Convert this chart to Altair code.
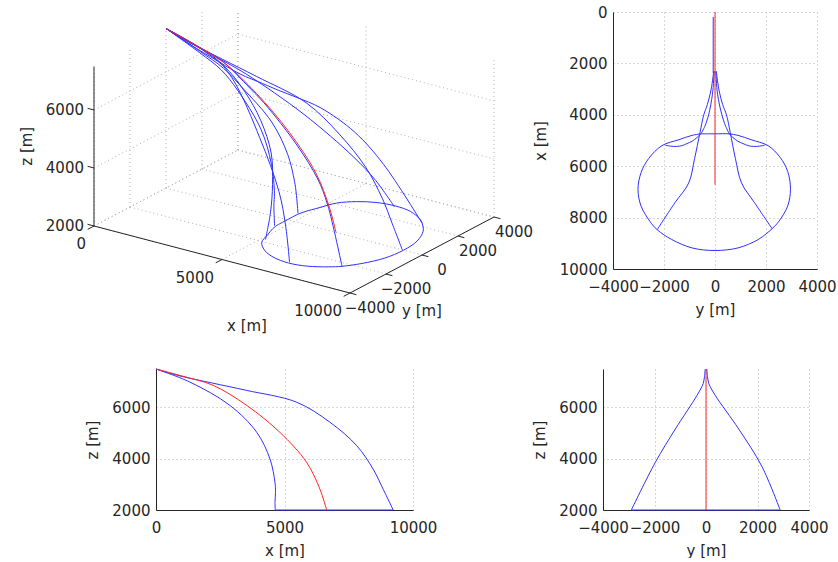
import altair as alt
import pandas as pd

FONT = "DejaVu Sans"
INK = "#262626"
BLUE = "#3030ff"
RED = "#ff2424"
GRID = "#b0b0b0"
FS = 15

# ---------------- 3-D view: limits and ticks ----------------
x_lim3 = [0, 10000]
y_lim3 = [-4000, 4000]
z_lim3 = [2000, 7500]
x_ticks3 = [0, 5000, 10000]
y_ticks3 = [-4000, -2000, 0, 2000, 4000]
z_ticks3 = [2000, 4000, 6000]

# ---------------- trajectories (metres) ----------------
red_x = [0, 1000, 2230, 3530, 4820, 5860, 6380, 6640]
red_y = [0, 0, 0, 0, 0, 0, 0, 0]
red_z = [7500, 7230, 6860, 6080, 5030, 3860, 2810, 2000]

a_x = [0, 1320, 2200, 2880, 3920, 4435, 4630, 4650, 4700]
a_y = [0, -30, -60, -120, -300, -450, -560, -620, -650]
a_z = [7500, 6990, 6600, 6077, 5030, 3990, 3070, 2680, 2000]

a2_x = [0, 1320, 2200, 2880, 3920, 4435, 4630, 4650, 4700]
a2_y = [0, 30, 60, 120, 300, 450, 560, 620, 650]
a2_z = [7500, 7000, 6620, 6100, 5080, 4040, 3100, 2700, 2000]

e_x = [0, 1200, 2300, 3200, 4000, 4600, 4900, 5100, 5150]
e_y = [0, -20, -50, -200, -430, -700, -1050, -1450, -1800]
e_z = [7500, 7100, 6750, 6150, 5400, 4500, 3600, 2800, 2000]

g_x = [0, 1000, 2000, 2900, 4500, 5800, 6400, 6900]
g_y = [0, -20, -50, -350, -1190, -1970, -2450, -2950]
g_z = [7500, 7230, 6930, 6470, 5160, 3855, 2950, 2000]

g2_x = [0, 1000, 2000, 2900, 4500, 5800, 6400, 6900]
g2_y = [0, 20, 50, 360, 1270, 2170, 2550, 2880]
g2_z = [7500, 7230, 6930, 6470, 5160, 3700, 2900, 2000]

c_x = [0, 1000, 2300, 3000, 3600, 4000, 4700, 5700, 6650, 7420, 8470]
c_y = [0, -20, -50, -150, -300, -440, -590, -800, -1030, -1570, -2270]
c_z = [7500, 7230, 6876, 6534, 6272, 6138, 5728, 5028, 4186, 3641, 2000]

c2_x = [0, 1000, 2300, 3000, 3420, 4100, 4700, 5500, 6640, 7450, 8430]
c2_y = [0, 20, 50, 150, 240, 400, 590, 780, 1030, 1500, 2240]
c2_z = [7500, 7230, 6721, 6486, 6383, 6190, 6014, 5776, 5128, 4038, 2000]

d_x = [0, 930, 2200, 3530, 5470, 6770, 7810, 8450, 8840, 9230]
d_y = [0, 0, 0, 0, 0, 0, 0, 0, 0, 0]
d_z = [7500, 7230, 6950, 6665, 6206, 5422, 4509, 3594, 2810, 2000]

# reachable footprint at z = 2000 (y, x)
gb_y = [-550, 0, 550, 900, 1420, 2080, 2550, 2850, 2960, 2850, 2500, 2240, 1700, 900, 0,
        -900, -1700, -2270, -2550, -2900, -3020, -2900, -2600, -2080, -1420, -900, -550]
gb_x = [4740, 4740, 4740, 4800, 4970, 5200, 5650, 6200, 6900, 7550, 8150, 8430, 8850, 9180, 9280,
        9180, 8850, 8470, 8150, 7550, 6910, 6250, 5700, 5200, 4970, 4800, 4740]
lobe_l_y = [-1950, -1750, -1500, -1300, -1100, -900, -700, -550]
lobe_l_x = [5180, 5220, 5230, 5200, 5120, 5030, 4880, 4740]
lobe_r_y = [1950, 1750, 1500, 1300, 1100, 900, 700, 550]
lobe_r_x = [5180, 5220, 5230, 5200, 5120, 5030, 4880, 4740]

# top view ground tracks (y, x)
tv_red_y = [0, 0]
tv_red_x = [0, 6720]
tv_trunk_y = [-70, -70]
tv_trunk_x = [190, 2370]
tv_tl_y = [-50, -150, -300, -440, -590, -800, -1030, -1570, -2270]
tv_tl_x = [2300, 3000, 3600, 4000, 4700, 5700, 6650, 7420, 8470]
tv_tr_y = [50, 150, 300, 450, 600, 800, 1040, 1550, 2240]
tv_tr_x = [2300, 3000, 3600, 4000, 4700, 5700, 6650, 7420, 8430]
tv_il_y = [-30, -100, -250, -400, -550]
tv_il_x = [2300, 3200, 4000, 4450, 4740]
tv_ir_y = [30, 100, 270, 420, 560]
tv_ir_x = [2300, 3200, 4000, 4450, 4740]

# side view x-z envelopes
bl_min_x = [0, 1320, 2880, 3920, 4435, 4630, 4650, 4630, 4640]
bl_min_z = [7500, 6990, 6077, 5030, 3990, 3070, 2680, 2290, 2000]
bl_max_x = [0, 930, 2200, 3530, 5470, 6770, 7810, 8450, 8840, 9230]
bl_max_z = [7500, 7230, 6950, 6665, 6206, 5422, 4509, 3594, 2810, 2000]
bl_base_x = [4640, 9230]
bl_base_z = [2000, 2000]

# side view y-z envelopes
br_l_y = [-30, -60, -110, -350, -1190, -1970, -2900]
br_l_z = [7500, 7200, 6930, 6470, 5160, 3855, 2000]
br_r_y = [30, 60, 110, 360, 1270, 2170, 2880]
br_r_z = [7500, 7200, 6930, 6470, 5160, 3700, 2000]
br_red_y = [0, 0]
br_red_z = [7500, 2000]
br_base_y = [-2900, 2880]
br_base_z = [2000, 2000]

# ---------------- 3-D projection (orthographic, view of the figure) ----------------
W3, H3 = 530, 326
P_OX, P_OY = 91, 214          # corner (x=0, y=-4000, z=2000) inside the panel
P_XX, P_XY = 0.0256, 0.0067   # px per metre along x
P_YX, P_YY = 0.018, -0.0095   # px per metre along y
P_Z = 0.029                   # px per metre along z

SX = f"{P_OX} + {P_XX}*datum.x + {P_YX}*(datum.y - ({y_lim3[0]}))"
SY = f"{P_OY} + {P_XY}*datum.x + ({P_YY})*(datum.y - ({y_lim3[0]})) - {P_Z}*(datum.z - {z_lim3[0]})"


def fmt(v):
    return str(v).replace("-", "\u2212")


rows3 = []


def add3(kind, sid, xs, ys, zs):
    for i, (x, y, z) in enumerate(zip(xs, ys, zs)):
        rows3.append(dict(kind=kind, id=sid, i=i, x=x, y=y, z=z))


z0, z1 = z_lim3
x0, x1 = x_lim3
y0, y1 = y_lim3
for xt in x_ticks3:
    add3("grid", f"fx{xt}", [xt, xt], [y0, y1], [z0, z0])
    add3("grid", f"bx{xt}", [xt, xt], [y1, y1], [z0, z1])
for yt in y_ticks3:
    add3("grid", f"fy{yt}", [x0, x1], [yt, yt], [z0, z0])
    add3("grid", f"by{yt}", [x0, x0], [yt, yt], [z0, z1])
for zt in z_ticks3:
    add3("grid", f"wz{zt}", [x0, x1], [y1, y1], [zt, zt])
    add3("grid", f"vz{zt}", [x0, x0], [y0, y1], [zt, zt])
add3("axis", "zaxis", [x0, x0], [y0, y0], [z0, z1])
add3("axis", "xaxis", [x0, x1], [y0, y0], [z0, z0])
add3("axis", "yaxis", [x1, x1], [y0, y1], [z0, z0])
for xt in x_ticks3:
    add3("axis", f"tx{xt}", [xt, xt], [y0, y0 - 350], [z0, z0])
for yt in y_ticks3:
    add3("axis", f"ty{yt}", [x1, x1 + 250], [yt, yt], [z0, z0])
for zt in z_ticks3:
    add3("axis", f"tz{zt}", [x0, x0 - 250], [y0, y0], [zt, zt])
for sid, xs, ys, zs in [("A", a_x, a_y, a_z), ("A2", a2_x, a2_y, a2_z), ("E", e_x, e_y, e_z),
                        ("G", g_x, g_y, g_z), ("G2", g2_x, g2_y, g2_z),
                        ("C", c_x, c_y, c_z), ("C2", c2_x, c2_y, c2_z), ("D", d_x, d_y, d_z)]:
    add3("blue", sid, xs, ys, zs)
add3("blue", "foot", gb_x, gb_y, [z0] * len(gb_x))
add3("red", "nom", red_x, red_y, red_z)
df3 = pd.DataFrame(rows3)

trow = []
for xt in x_ticks3:
    trow.append(dict(role="xl", t=fmt(xt), x=xt, y=y0, z=z0))
for yt in y_ticks3:
    trow.append(dict(role="yl", t=fmt(yt), x=x1, y=yt, z=z0))
for zt in z_ticks3:
    trow.append(dict(role="zl", t=fmt(zt), x=x0, y=y0, z=zt))
trow.append(dict(role="xt", t="x [m]", x=(x0 + x1) / 2, y=y0, z=z0))
trow.append(dict(role="yt", t="y [m]", x=x1, y=(y0 + y1) / 2, z=z0))
trow.append(dict(role="zt", t="z [m]", x=x0, y=y0, z=(z0 + z1) / 2))
dft = pd.DataFrame(trow)

X3 = alt.X("sx:Q", scale=alt.Scale(domain=[0, W3], nice=False, zero=False), axis=None)
Y3 = alt.Y("sy:Q", scale=alt.Scale(domain=[0, H3], nice=False, zero=False, reverse=True), axis=None)

b3 = alt.Chart(df3).transform_calculate(sx=SX, sy=SY)


def line3(kind, **kw):
    return b3.transform_filter(f"datum.kind == '{kind}'").mark_line(clip=True, **kw).encode(
        x=X3, y=Y3, detail="id:N", order="i:Q")


bt = alt.Chart(dft).transform_calculate(sx=SX, sy=SY)


def text3(role, **kw):
    return bt.transform_filter(f"datum.role == '{role}'").mark_text(
        font=FONT, fontSize=FS, color=INK, baseline="middle", clip=True, **kw).encode(
        x=X3, y=Y3, text="t:N")


p3d = alt.layer(
    line3("grid", color=GRID, strokeDash=[1, 3], strokeWidth=1),
    line3("axis", color=INK, strokeWidth=1),
    line3("blue", color=BLUE, strokeWidth=1, interpolate="catmull-rom"),
    line3("red", color=RED, strokeWidth=1, interpolate="catmull-rom"),
    text3("xl", align="right", dx=-8, dy=18),
    text3("yl", align="center", dx=20, dy=15),
    text3("zl", align="right", dx=-10),
    text3("xt", align="center", dx=25, dy=66),
    text3("yt", align="center", dy=56),
    text3("zt", align="center", angle=270, dy=-67),
).properties(width=W3, height=H3)


# ---------------- 2-D panels ----------------
def rows2d(sid, kind, hs, vs):
    return [dict(id=sid, kind=kind, i=i, h=h, v=v) for i, (h, v) in enumerate(zip(hs, vs))]


def panel(rows, hdom, hticks, htitle, vdom, vticks, vtitle, vrev, w, h):
    df = pd.DataFrame(rows)
    xe = alt.X("h:Q", scale=alt.Scale(domain=hdom, nice=False, zero=False),
               axis=alt.Axis(values=hticks, title=htitle, format="d"))
    ye = alt.Y("v:Q", scale=alt.Scale(domain=vdom, nice=False, zero=False, reverse=vrev),
               axis=alt.Axis(values=vticks, title=vtitle, format="d"))
    base = alt.Chart(df)
    blue = base.transform_filter("datum.kind == 'blue'").mark_line(
        color=BLUE, strokeWidth=1, interpolate="catmull-rom").encode(x=xe, y=ye, detail="id:N", order="i:Q")
    red = base.transform_filter("datum.kind == 'red'").mark_line(
        color=RED, strokeWidth=1, interpolate="catmull-rom").encode(x=xe, y=ye, detail="id:N", order="i:Q")
    return alt.layer(blue, red).properties(width=w, height=h)


tr_rows = (rows2d("trunk", "blue", tv_trunk_y, tv_trunk_x) + rows2d("tl", "blue", tv_tl_y, tv_tl_x)
           + rows2d("tr", "blue", tv_tr_y, tv_tr_x) + rows2d("il", "blue", tv_il_y, tv_il_x)
           + rows2d("ir", "blue", tv_ir_y, tv_ir_x) + rows2d("gb", "blue", gb_y, gb_x)
           + rows2d("ll", "blue", lobe_l_y, lobe_l_x) + rows2d("lr", "blue", lobe_r_y, lobe_r_x)
           + rows2d("red", "red", tv_red_y, tv_red_x))
tr = panel(tr_rows, [-4000, 4000], [-4000, -2000, 0, 2000, 4000], "y [m]",
           [0, 10000], [0, 2000, 4000, 6000, 8000, 10000], "x [m]", True, 204, 257)

bl_rows = (rows2d("min", "blue", bl_min_x, bl_min_z) + rows2d("max", "blue", bl_max_x, bl_max_z)
           + rows2d("base", "blue", bl_base_x, bl_base_z) + rows2d("red", "red", red_x, red_z))
bl = panel(bl_rows, [0, 10000], [0, 5000, 10000], "x [m]",
           [2000, 7500], [2000, 4000, 6000], "z [m]", False, 257, 141)

br_rows = (rows2d("l", "blue", br_l_y, br_l_z) + rows2d("r", "blue", br_r_y, br_r_z)
           + rows2d("base", "blue", br_base_y, br_base_z) + rows2d("red", "red", br_red_y, br_red_z))
br = panel(br_rows, [-4000, 4000], [-4000, -2000, 0, 2000, 4000], "y [m]",
           [2000, 7500], [2000, 4000, 6000], "z [m]", False, 206, 141)

spacer = alt.Chart(pd.DataFrame({"s": [0]})).mark_point(opacity=0).encode(
    x=alt.value(0), y=alt.value(0)).properties(width=82, height=141)

row1 = alt.hconcat(p3d, tr, spacing=0).resolve_scale(x="independent", y="independent")
row2 = alt.hconcat(alt.hconcat(spacer, bl, spacing=0), br, spacing=95).resolve_scale(
    x="independent", y="independent")

chart = (
    alt.vconcat(row1, row2, spacing=28)
    .resolve_scale(x="independent", y="independent")
    .properties(padding={"left": 0, "top": 5, "right": 0, "bottom": 0}, background="white")
    .configure_view(stroke=None)
    .configure_axis(
        labelFont=FONT, labelFontSize=FS, labelColor=INK, titleFont=FONT, titleFontSize=FS,
        titleFontWeight="normal", titleColor=INK, domainColor=INK, domainWidth=1, ticks=False,
        gridColor=GRID, gridDash=[1, 3], gridWidth=1, labelFlush=False, labelOverlap=False)
    .configure_axisX(labelPadding=10, titlePadding=8)
    .configure_axisY(labelPadding=6, titlePadding=11)
)

chart.save("out.html", embed_options={"renderer": "svg", "actions": False})
